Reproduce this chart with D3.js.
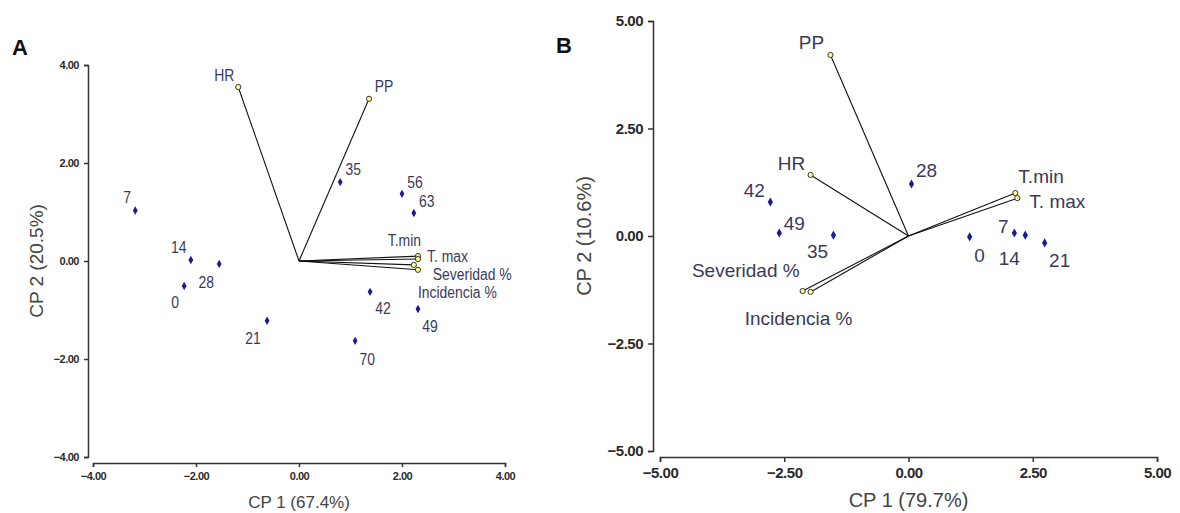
<!DOCTYPE html>
<html>
<head>
<meta charset="utf-8">
<script src="https://cdn.jsdelivr.net/npm/d3@7"></script>
<style>
  body { margin: 0; background: #fff; }
  svg { display: block; font-family: "Liberation Sans", Arial, sans-serif; }
  .tick text { font-weight: bold; fill: #2b2b2b; }
  .domain, .tick line { stroke: #333; stroke-width: 1.5; }
</style>
</head>
<body>
<svg width="1180" height="513"></svg>
<script>
// Panel A: observations (days) and variable vectors
const obsA = ["7", "14", "28", "0", "21", "35", "56", "63", "42", "49", "70"];
const obsAx = [-3.18, -2.10, -1.55, -2.23, -0.62, 0.80, 2.00, 2.23, 1.38, 2.31, 1.09];
const obsAy = [1.03, 0.02, -0.06, -0.51, -1.22, 1.61, 1.37, 0.98, -0.63, -0.98, -1.63];
const varA = ["HR", "PP", "T.min", "T. max", "Severidad %", "Incidencia %"];
const varAx = [-1.18, 1.36, 2.31, 2.31, 2.23, 2.31];
const varAy = [3.55, 3.31, 0.10, 0.04, -0.08, -0.18];
const ticksA = [-4, -2, 0, 2, 4];

// Panel B
const obsB = ["42", "49", "35", "28", "0", "7", "14", "21"];
const obsBx = [-2.78, -2.60, -1.51, 0.06, 1.23, 2.13, 2.35, 2.74];
const obsBy = [0.79, 0.07, 0.02, 1.21, -0.02, 0.07, 0.02, -0.16];
const varB = ["PP", "HR", "T.min", "T. max", "Severidad %", "Incidencia %"];
const varBx = [-1.57, -1.97, 2.15, 2.19, -2.13, -1.97];
const varBy = [4.21, 1.42, 1.00, 0.88, -1.28, -1.30];
const ticksB = [-5, -2.5, 0, 2.5, 5];

// label placement (anchor, dx, dy) for each point / vector
const obsLabA = [["middle",-8,-8],["middle",-12,-7],["middle",-13,24],["middle",-9,22],["middle",-14,23],
  ["middle",13,-7],["middle",13,-6],["middle",13,-6],["middle",13,22],["middle",12,23],["middle",12,24]];
const varLabA = [["middle",-14,-6],["middle",15,-7],["end",3,-10],["start",9,3],["start",19,15],["start",0,28]];
const obsLabB = [["middle",-16,-5],["middle",15,-3],["middle",-16,23],["middle",15,-7],["middle",10,25],
  ["middle",-11,0],["middle",-16,30],["middle",15,24]];
const varLabB = [["middle",-19,-6],["middle",-19,-5],["start",3,-10],["start",12,10],["end",-3,-14],["middle",-12,33]];

const svg = d3.select("svg");

function drawPanel(p) {
  const x = d3.scaleLinear().domain(p.dom).range(p.xr);
  const y = d3.scaleLinear().domain(p.dom).range(p.yr);
  const g = svg.append("g");

  g.append("g")
    .attr("transform", `translate(0,${p.xAxisY})`)
    .call(d3.axisBottom(x).tickValues(p.ticks).tickFormat(d3.format(".2f"))
      .tickSizeOuter(0).tickSize(p.tick).tickPadding(p.pad))
    .selectAll("text").style("font-size", p.tickFont + "px").style("letter-spacing", "-0.5px");
  g.append("g")
    .attr("transform", `translate(${p.yAxisX},0)`)
    .call(d3.axisLeft(y).tickValues(p.ticks).tickFormat(d3.format(".2f"))
      .tickSizeOuter(0).tickSize(p.tick).tickPadding(p.pad))
    .selectAll("text").style("font-size", p.tickFont + "px").style("letter-spacing", "-0.5px");

  // vectors
  const vars = p.varNames.map((n, i) => ({n, x: p.varX[i], y: p.varY[i], lab: p.varLab[i]}));
  g.selectAll(".vec").data(vars).enter().append("line")
    .attr("x1", x(0)).attr("y1", y(0))
    .attr("x2", d => x(d.x)).attr("y2", d => y(d.y))
    .attr("stroke", "#111").attr("stroke-width", 1.1);
  g.selectAll(".vend").data(vars).enter().append("circle")
    .attr("cx", d => x(d.x)).attr("cy", d => y(d.y)).attr("r", 2.6)
    .attr("fill", "#ffff8a").attr("stroke", "#333").attr("stroke-width", 1);
  g.selectAll(".vlab").data(vars).enter().append("text")
    .attr("transform", d => `translate(${x(d.x) + d.lab[1]},${y(d.y) + d.lab[2]}) scale(${p.sx},1)`)
    .attr("text-anchor", d => d.lab[0])
    .style("font-size", p.labFont + "px").attr("fill", "#3a3a58")
    .text(d => d.n);

  // observations
  const obs = p.obsNames.map((n, i) => ({n, x: p.obsX[i], y: p.obsY[i], lab: p.obsLab[i]}));
  g.selectAll(".pt").data(obs).enter().append("path")
    .attr("d", d3.symbol(d3.symbolDiamond, p.ptSize))
    .attr("transform", d => `translate(${x(d.x)},${y(d.y)})`)
    .attr("fill", "#1b1b95");
  g.selectAll(".plab").data(obs).enter().append("text")
    .attr("transform", d => `translate(${x(d.x) + d.lab[1]},${y(d.y) + d.lab[2]}) scale(${p.sx},1)`)
    .attr("text-anchor", d => d.lab[0])
    .style("font-size", p.labFont + "px").attr("fill", "#3a3a58")
    .text(d => d.n);

  // titles
  g.append("text").attr("x", x(0)).attr("y", p.xTitleY).attr("text-anchor", "middle")
    .style("font-size", p.titleFont + "px").attr("fill", "#444").text(p.xTitle);
  g.append("text")
    .attr("transform", `translate(${p.yTitleX},${y(0)}) rotate(-90)`)
    .attr("text-anchor", "middle")
    .style("font-size", p.yTitleFont + "px").attr("fill", "#444").text(p.yTitle);
  g.append("text").attr("x", p.letter[0]).attr("y", p.letter[1])
    .style("font-size", "22px").style("font-weight", "bold").attr("fill", "#111").text(p.name);
}

drawPanel({
  name: "A", letter: [12, 55],
  dom: [-4, 4], xr: [93, 505], yr: [457, 65], xAxisY: 463, yAxisX: 88,
  ticks: ticksA, tick: 4, pad: 5, tickFont: 11, labFont: 16, sx: 0.87, ptSize: 20,
  obsNames: obsA, obsX: obsAx, obsY: obsAy, obsLab: obsLabA,
  varNames: varA, varX: varAx, varY: varAy, varLab: varLabA,
  xTitle: "CP 1 (67.4%)", xTitleY: 508, titleFont: 17,
  yTitle: "CP 2 (20.5%)", yTitleX: 43, yTitleFont: 19
});

drawPanel({
  name: "B", letter: [556, 53],
  dom: [-5, 5], xr: [660, 1157], yr: [451, 21], xAxisY: 457, yAxisX: 653,
  ticks: ticksB, tick: 5, pad: 5, tickFont: 15, labFont: 19, sx: 1, ptSize: 24,
  obsNames: obsB, obsX: obsBx, obsY: obsBy, obsLab: obsLabB,
  varNames: varB, varX: varBx, varY: varBy, varLab: varLabB,
  xTitle: "CP 1 (79.7%)", xTitleY: 507, titleFont: 20,
  yTitle: "CP 2 (10.6%)", yTitleX: 591, yTitleFont: 20
});
</script>
</body>
</html>
